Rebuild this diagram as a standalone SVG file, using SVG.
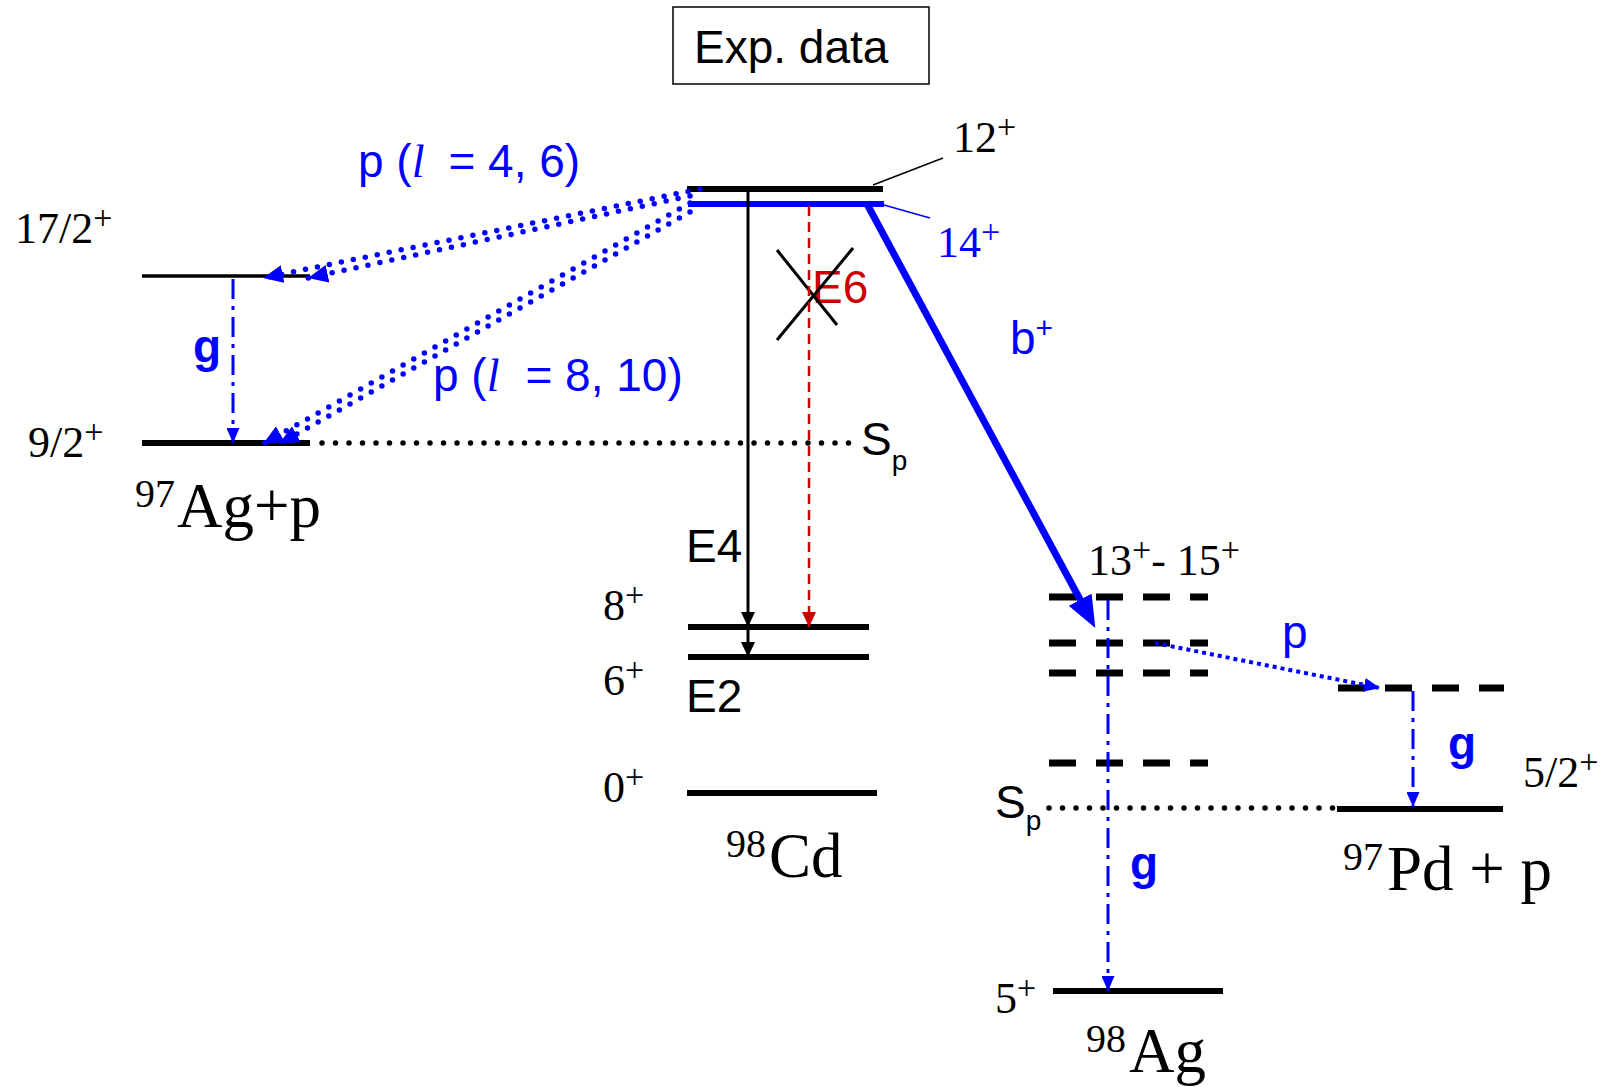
<svg xmlns="http://www.w3.org/2000/svg" width="1608" height="1087" viewBox="0 0 1608 1087">
<style>
.lvl{stroke:#000;stroke-width:6;fill:none}
.lvlb{stroke:#0000FF;stroke-width:6;fill:none}
.dash{stroke:#000;stroke-width:7;stroke-dasharray:27 20;fill:none}
.sp{stroke:#000;stroke-width:5.5;stroke-linecap:round;stroke-dasharray:0 13.5;fill:none}
.pdot{stroke:#0000FF;stroke-width:5.5;stroke-linecap:round;stroke-dasharray:0 12.2;fill:none}
.pdot2{stroke:#0000FF;stroke-width:4;stroke-dasharray:4 4;fill:none}
.gam{stroke:#0000FF;stroke-width:3;stroke-dasharray:20 7 4 7;fill:none}
.tm{font-family:"Liberation Serif","Times New Roman",serif;font-size:44px;fill:#000}
.big{font-family:"Liberation Serif","Times New Roman",serif;font-size:63px;fill:#000}
.ar{font-family:"Liberation Sans",Arial,sans-serif;font-size:46px;fill:#000}
.sup{font-size:34px}
.blue{fill:#0000FF}
.red{fill:#CC0000}
.gb{font-family:"Liberation Sans",Arial,sans-serif;font-size:46px;font-weight:bold;fill:#0000FF}
</style>
<defs>
<marker id="mPd" markerUnits="userSpaceOnUse" viewBox="0 0 20 18" refX="20" refY="9" markerWidth="20" markerHeight="18" orient="auto"><path d="M0,0 L20,9 L0,18 z" fill="#0000FF"/></marker>
<marker id="mG" markerUnits="userSpaceOnUse" viewBox="0 0 15 13" refX="15" refY="6.5" markerWidth="15" markerHeight="13" orient="auto"><path d="M0,0 L15,6.5 L0,13 z" fill="#0000FF"/></marker>
<marker id="mK" markerUnits="userSpaceOnUse" viewBox="0 0 15 14" refX="15" refY="7" markerWidth="15" markerHeight="14" orient="auto"><path d="M0,0 L15,7 L0,14 z" fill="#000"/></marker>
<marker id="mR" markerUnits="userSpaceOnUse" viewBox="0 0 15 14" refX="15" refY="7" markerWidth="15" markerHeight="14" orient="auto"><path d="M0,0 L15,7 L0,14 z" fill="#CC0000"/></marker>
<marker id="mB" markerUnits="userSpaceOnUse" viewBox="0 0 32 26" refX="6" refY="13" markerWidth="32" markerHeight="26" orient="auto"><path d="M0,0 L32,13 L0,26 z" fill="#0000FF"/></marker>
<marker id="mP" markerUnits="userSpaceOnUse" viewBox="0 0 16 14" refX="16" refY="7" markerWidth="16" markerHeight="14" orient="auto"><path d="M0,0 L16,7 L0,14 z" fill="#0000FF"/></marker>
</defs>
<rect width="1608" height="1087" fill="#fff"/>

<g id="title">
<rect x="673" y="7" width="256" height="77" fill="#fff" stroke="#000" stroke-width="1.5"/>
<text class="ar" x="694" y="63">Exp. data</text>
</g>

<g id="ag97">
<line class="lvl" x1="142" y1="276" x2="310" y2="276" style="stroke-width:3.5"/>
<line class="lvl" x1="142" y1="443" x2="310" y2="443"/>
<text class="tm" x="15" y="243">17/2<tspan class="sup" dy="-14">+</tspan></text>
<text class="tm" x="28" y="457">9/2<tspan class="sup" dy="-14">+</tspan></text>
<text class="big" x="135" y="527"><tspan font-size="40" dy="-20">97</tspan><tspan dy="20" dx="2">Ag+p</tspan></text>
<text class="gb" x="193" y="362">g</text>
</g>

<g id="cd98">
<line class="lvl" x1="687" y1="189" x2="883" y2="189"/>
<line class="lvlb" x1="688" y1="204" x2="884" y2="204"/>
<line class="lvl" x1="688" y1="627" x2="869" y2="627"/>
<line class="lvl" x1="688" y1="657" x2="869" y2="657"/>
<line class="lvl" x1="687" y1="793" x2="877" y2="793"/>
<line x1="873" y1="185" x2="943" y2="158" stroke="#000" stroke-width="1.5"/>
<line x1="884" y1="205" x2="930" y2="218" stroke="#0000FF" stroke-width="1.5"/>
<text class="tm" x="953" y="152">12<tspan class="sup" dy="-14">+</tspan></text>
<text class="tm blue" x="937" y="257">14<tspan class="sup" dy="-14">+</tspan></text>
<text class="tm" x="603" y="620">8<tspan class="sup" dy="-14">+</tspan></text>
<text class="tm" x="603" y="695">6<tspan class="sup" dy="-14">+</tspan></text>
<text class="tm" x="603" y="802">0<tspan class="sup" dy="-14">+</tspan></text>
<text class="big" x="726" y="877"><tspan font-size="40" dy="-20">98</tspan><tspan dy="20" dx="3">Cd</tspan></text>
<text class="ar" x="686" y="562">E4</text>
<text class="ar" x="686" y="712">E2</text>
<text class="ar red" x="812" y="303">E6</text>
<line x1="777" y1="250" x2="837" y2="325" stroke="#000" stroke-width="3"/>
<line x1="853" y1="248" x2="777" y2="340" stroke="#000" stroke-width="3"/>
<text class="ar" x="861" y="455">S<tspan font-size="28" dy="15">p</tspan></text>
</g>

<g id="ag98">
<line class="dash" x1="1049" y1="597" x2="1208" y2="597"/>
<line class="dash" x1="1049" y1="643" x2="1208" y2="643"/>
<line class="dash" x1="1049" y1="673" x2="1208" y2="673"/>
<line class="dash" x1="1049" y1="763" x2="1208" y2="763"/>
<line class="lvl" x1="1053" y1="991" x2="1223" y2="991"/>
<text class="tm" x="1088" y="575">13<tspan class="sup" dy="-14">+</tspan><tspan dy="14">- 15</tspan><tspan class="sup" dy="-14">+</tspan></text>
<text class="tm" x="995" y="1013">5<tspan class="sup" dy="-14">+</tspan></text>
<text class="big" x="1086" y="1072"><tspan font-size="40" dy="-20">98</tspan><tspan dy="20" dx="3">Ag</tspan></text>
<text class="ar" x="995" y="818">S<tspan font-size="28" dy="12">p</tspan></text>
<text class="gb" x="1130" y="879">g</text>
</g>

<g id="pd97">
<line class="dash" x1="1338" y1="688" x2="1504" y2="688"/>
<line class="lvl" x1="1337" y1="809" x2="1503" y2="809"/>
<text class="tm" x="1523" y="787">5/2<tspan class="sup" dy="-14">+</tspan></text>
<text class="big" x="1343" y="890"><tspan font-size="40" dy="-20">97</tspan><tspan dy="20" dx="4">Pd + p</tspan></text>
<text class="gb" x="1448" y="759">g</text>
</g>

<g id="connectors">
<line class="sp" x1="322" y1="443" x2="856" y2="443"/>
<line class="sp" x1="1049" y1="808" x2="1335" y2="808"/>
<path class="pdot" d="M700,189 L263,278" marker-end="url(#mPd)"/>
<path class="pdot" d="M690,196 L308,278" marker-end="url(#mPd)"/>
<path class="pdot" d="M690,203 L263,444" marker-end="url(#mPd)"/>
<path class="pdot" d="M690,212 L279,444" marker-end="url(#mPd)"/>
<path class="gam" d="M233,279 L233,443" marker-end="url(#mG)"/>
<path d="M748,189 L748,627" stroke="#000" stroke-width="3" fill="none" marker-end="url(#mK)"/>
<path d="M748,627 L748,657" stroke="#000" stroke-width="3" fill="none" marker-end="url(#mK)"/>
<path d="M809,206 L809,627" stroke="#CC0000" stroke-width="2.5" stroke-dasharray="10 6" fill="none" marker-end="url(#mR)"/>
<path d="M867,204 L1083,605" stroke="#0000FF" stroke-width="7" fill="none" marker-end="url(#mB)"/>
<path class="gam" d="M1108,600 L1108,991" marker-end="url(#mG)"/>
<path class="pdot2" d="M1155,643 L1380,688" marker-end="url(#mP)"/>
<path class="gam" d="M1413,691 L1413,807" marker-end="url(#mG)"/>
</g>

<g id="labels">
<text class="ar blue" x="358" y="177">p (<tspan font-family="Liberation Serif" font-style="italic">l</tspan><tspan dx="24">= 4, 6)</tspan></text>
<text class="ar blue" x="433" y="391">p (<tspan font-family="Liberation Serif" font-style="italic">l</tspan><tspan dx="26">= 8, 10)</tspan></text>
<text class="ar blue" x="1010" y="354">b<tspan font-size="30" dy="-16">+</tspan></text>
<text class="ar blue" x="1282" y="648">p</text>
</g>
</svg>
